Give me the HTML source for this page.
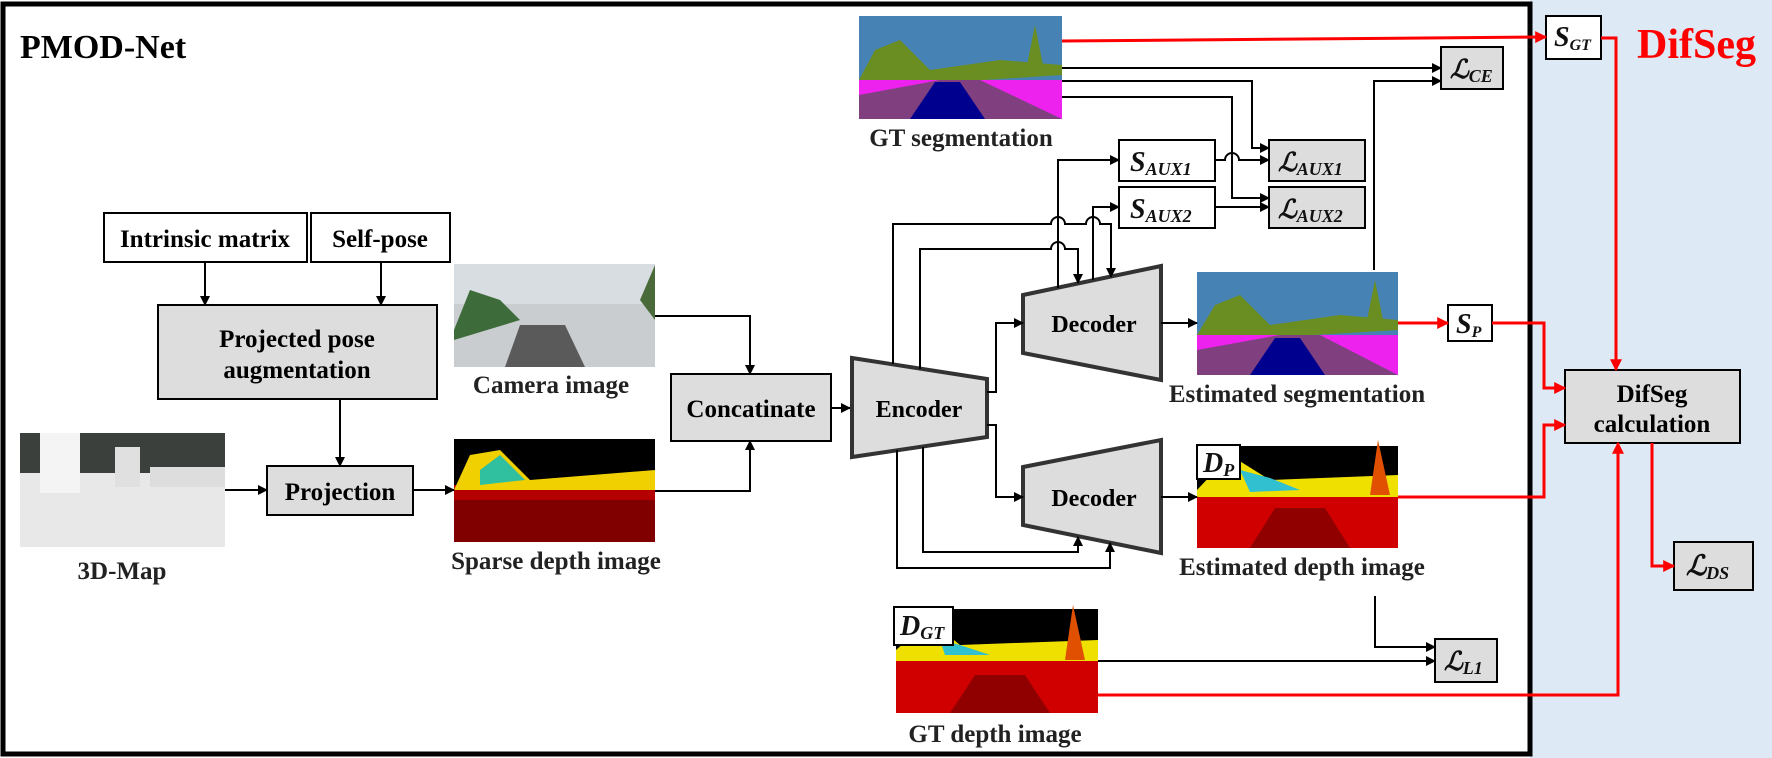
<!DOCTYPE html>
<html><head><meta charset="utf-8"><style>
html,body{margin:0;padding:0;background:#fff}
svg{display:block}
text{font-family:"Liberation Serif","DejaVu Serif",serif;font-weight:bold}
.l{font-size:25px;text-anchor:middle;fill:#222}
.m{font-style:italic;font-weight:bold;fill:#111}
</style></head><body>
<svg width="1772" height="758" viewBox="0 0 1772 758" xmlns="http://www.w3.org/2000/svg">
<defs>
<marker id="a" viewBox="0 0 10 10" refX="9" refY="5" markerWidth="5" markerHeight="5" orient="auto"><path d="M0,0L10,5L0,10z" fill="#000"/></marker>
<marker id="r" viewBox="0 0 10 10" refX="9" refY="5" markerWidth="4" markerHeight="4" orient="auto"><path d="M0,0L10,5L0,10z" fill="#f00"/></marker>
</defs>
<rect x="1530" y="0" width="242" height="758" fill="#dde9f5"/>
<rect x="3" y="4" width="1527" height="750" fill="#fff" stroke="#000" stroke-width="5"/>
<text x="20" y="58" font-size="34">PMOD-Net</text>
<text x="1637" y="58" font-size="42" fill="#f00">DifSeg</text>

<!-- left boxes -->
<g stroke="#000" stroke-width="2">
<rect x="104" y="213" width="203" height="49" fill="#fff"/>
<rect x="311" y="213" width="139" height="49" fill="#fff"/>
<rect x="158" y="305" width="279" height="94" fill="#ddd"/>
<rect x="267" y="466" width="146" height="49" fill="#ddd"/>
<rect x="671" y="374" width="160" height="67" fill="#ddd"/>
</g>
<text x="205" y="247" font-size="25" text-anchor="middle">Intrinsic matrix</text>
<text x="380" y="247" font-size="25" text-anchor="middle">Self-pose</text>
<text x="297" y="347" font-size="25" text-anchor="middle">Projected pose</text>
<text x="297" y="378" font-size="25" text-anchor="middle">augmentation</text>
<text x="340" y="500" font-size="25" text-anchor="middle">Projection</text>
<text x="751" y="417" font-size="25" text-anchor="middle">Concatinate</text>

<!-- images -->
<g>
<rect x="20" y="433" width="205" height="114" fill="#e8e8e8"/>
<rect x="20" y="433" width="205" height="40" fill="#3c403d"/>
<rect x="40" y="433" width="40" height="60" fill="#f4f4f4"/><rect x="115" y="447" width="25" height="40" fill="#e0e0e0"/><rect x="150" y="467" width="75" height="20" fill="#ddd"/>
</g>
<g>
<rect x="454" y="264" width="201" height="103" fill="#c9cdd0"/>
<rect x="454" y="264" width="201" height="40" fill="#d8dde2"/>
<path d="M454,330 L470,290 L500,300 L520,320 L454,340z" fill="#3d6b3a"/>
<path d="M640,300 L655,265 L655,320z" fill="#4a6a3a"/>
<path d="M505,367 L520,325 L565,325 L585,367z" fill="#5a5a5a"/>
</g>
<g>
<rect x="454" y="439" width="201" height="103" fill="#000"/>
<rect x="454" y="485" width="201" height="57" fill="#b40000"/>
<path d="M454,490 L470,455 L500,450 L530,480 L655,470 L655,490z" fill="#f0d000"/>
<path d="M480,470 L500,455 L525,480 L480,485z" fill="#30c0a0"/>
<rect x="454" y="500" width="201" height="42" fill="#800000"/>
</g>
<g>
<rect x="859" y="16" width="203" height="103" fill="#4682b4"/>
<path d="M859,80 L875,50 L900,40 L930,70 L1000,60 L1062,65 L1062,75 L859,88z" fill="#6b8e23"/>
<path d="M1025,75 L1035,25 L1045,75z" fill="#6b8e23"/>
<rect x="859" y="80" width="203" height="39" fill="#ee22ee"/>
<path d="M859,95 L940,80 L980,80 L1062,119 L859,119z" fill="#804080"/>
<path d="M910,119 L935,82 L960,82 L985,119z" fill="#00008e"/>
</g>
<g>
<rect x="1197" y="272" width="201" height="103" fill="#4682b4"/>
<path d="M1197,335 L1215,305 L1240,295 L1270,325 L1340,315 L1398,320 L1398,330 L1197,342z" fill="#6b8e23"/>
<path d="M1365,330 L1375,280 L1385,330z" fill="#6b8e23"/>
<rect x="1197" y="335" width="201" height="40" fill="#ee22ee"/>
<path d="M1197,350 L1280,335 L1320,335 L1398,375 L1197,375z" fill="#804080"/>
<path d="M1250,375 L1275,338 L1300,338 L1325,375z" fill="#00008e"/>
</g>
<g>
<rect x="1197" y="446" width="201" height="102" fill="#000"/>
<path d="M1197,490 L1230,455 L1270,480 L1398,475 L1398,500 L1197,500z" fill="#f0e000"/>
<path d="M1240,470 L1270,478 L1300,490 L1250,492z" fill="#30c0d0"/>
<path d="M1370,495 L1378,440 L1390,495z" fill="#e05000"/>
<rect x="1197" y="497" width="201" height="51" fill="#d00000"/>
<path d="M1250,548 L1275,508 L1325,508 L1350,548z" fill="#900000"/>
</g>
<g>
<rect x="896" y="609" width="202" height="104" fill="#000"/>
<path d="M896,650 L930,620 L960,645 L1098,640 L1098,665 L896,665z" fill="#f0e000"/>
<path d="M940,640 L960,645 L990,655 L945,655z" fill="#30c0d0"/>
<path d="M1065,660 L1073,605 L1085,660z" fill="#e05000"/>
<rect x="896" y="661" width="202" height="52" fill="#d00000"/>
<path d="M950,713 L975,675 L1025,675 L1050,713z" fill="#900000"/>
</g>

<!-- labels under images -->
<text class="l" x="122" y="579">3D-Map</text>
<text class="l" x="551" y="393">Camera image</text>
<text class="l" x="556" y="569">Sparse depth image</text>
<text class="l" x="961" y="146">GT segmentation</text>
<text class="l" x="1297" y="402">Estimated segmentation</text>
<text class="l" x="1302" y="575">Estimated depth image</text>
<text class="l" x="995" y="742">GT depth image</text>

<!-- encoder/decoders -->
<g stroke="#333" stroke-width="4" fill="#ddd">
<path d="M852,358 L987,379 L987,437 L852,457z"/>
<path d="M1023,295 L1161,266 L1161,380 L1023,353z"/>
<path d="M1023,467 L1161,440 L1161,553 L1023,525z"/>
</g>
<text x="919" y="417" font-size="24" text-anchor="middle">Encoder</text>
<text x="1094" y="332" font-size="24" text-anchor="middle">Decoder</text>
<text x="1094" y="506" font-size="24" text-anchor="middle">Decoder</text>

<!-- math boxes -->
<g stroke="#000" stroke-width="2">
<rect x="1119" y="140" width="96" height="41" fill="#fff"/>
<rect x="1119" y="187" width="96" height="41" fill="#fff"/>
<rect x="1269" y="140" width="96" height="41" fill="#ddd"/>
<rect x="1269" y="187" width="96" height="41" fill="#ddd"/>
<rect x="1441" y="47" width="62" height="42" fill="#ddd"/>
<rect x="1546" y="16" width="55" height="43" fill="#fff"/>
<rect x="1448" y="305" width="44" height="36" fill="#fff"/>
<rect x="1435" y="639" width="62" height="43" fill="#ddd"/>
<rect x="1674" y="542" width="79" height="48" fill="#ddd"/>
<rect x="1197" y="445" width="43" height="34" fill="#fff"/>
<rect x="894" y="607" width="59" height="38" fill="#fff"/>
<rect x="1565" y="370" width="175" height="73" fill="#ddd"/>
</g>
<text x="1652" y="402" font-size="25" text-anchor="middle">DifSeg</text>
<text x="1652" y="432" font-size="25" text-anchor="middle">calculation</text>
<g class="m">
<text x="1130" y="171" font-size="28">S<tspan font-size="18" dy="4">AUX1</tspan></text>
<text x="1130" y="218" font-size="28">S<tspan font-size="18" dy="4">AUX2</tspan></text>
<text x="1278" y="171" font-size="26">ℒ<tspan font-size="18" dy="4">AUX1</tspan></text>
<text x="1278" y="218" font-size="26">ℒ<tspan font-size="18" dy="4">AUX2</tspan></text>
<text x="1450" y="78" font-size="26">ℒ<tspan font-size="18" dy="4">CE</tspan></text>
<text x="1554" y="46" font-size="28">S<tspan font-size="16" dy="4">GT</tspan></text>
<text x="1456" y="333" font-size="28">S<tspan font-size="16" dy="4">P</tspan></text>
<text x="1444" y="670" font-size="26">ℒ<tspan font-size="18" dy="4">L1</tspan></text>
<text x="1686" y="575" font-size="28">ℒ<tspan font-size="18" dy="4">DS</tspan></text>
<text x="1203" y="472" font-size="28">D<tspan font-size="18" dy="4">P</tspan></text>
<text x="900" y="635" font-size="28">D<tspan font-size="18" dy="4">GT</tspan></text>
</g>

<!-- black connectors -->
<g stroke="#000" stroke-width="2" fill="none" marker-end="url(#a)">
<path d="M205,262V305"/>
<path d="M381,262V305"/>
<path d="M340,399V466"/>
<path d="M225,490H267"/>
<path d="M413,490H454"/>
<path d="M655,316H750V374"/>
<path d="M655,491H750V441"/>
<path d="M831,408H850"/>
<path d="M987,392H996V323H1023"/>
<path d="M987,425H996V497H1023"/>
<path d="M1161,323H1197"/>
<path d="M1161,497H1197"/>
<path d="M1062,68H1441"/>
<path d="M1374,270V81H1441"/>
<path d="M1062,81H1252V148H1269"/>
<path d="M1062,97H1232V198H1269"/>
<path d="M1215,160H1225A7,7 0 0 1 1239,160H1269"/>
<path d="M1215,207H1269"/>
<path d="M1058,288V160H1119"/>
<path d="M1093,280V207H1119"/>
<path d="M893,364V224H1051A7,7 0 0 1 1065,224H1086A7,7 0 0 1 1100,224H1111V277"/>
<path d="M920,369V249H1051A7,7 0 0 1 1065,249H1078V283"/>
<path d="M897,450V568H1110V543"/>
<path d="M923,447V552H1078V537"/>
<path d="M1098,661H1435"/>
<path d="M1375,596V647H1435"/>
</g>

<!-- red connectors -->
<g stroke="#f00" stroke-width="3" fill="none" marker-end="url(#r)">
<path d="M1062,41L1546,37"/>
<path d="M1601,38H1616V370"/>
<path d="M1398,323H1448"/>
<path d="M1492,323H1544V388H1565"/>
<path d="M1398,497H1544V425H1565"/>
<path d="M1098,695H1618V443"/>
<path d="M1652,443V566H1674"/>
</g>
</svg>
</body></html>
